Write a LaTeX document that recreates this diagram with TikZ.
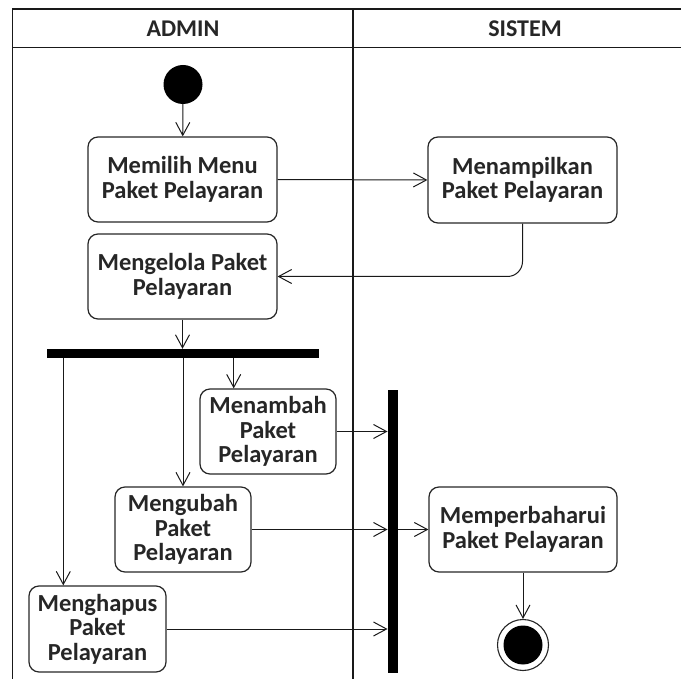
\documentclass[tikz,border=0pt]{standalone}
\usepackage{fontspec}
\setmainfont{Carlito}
\usetikzlibrary{arrows.meta}

\tikzset{
  lane/.style={line width=1.4pt, draw=black!90},
  act/.style={draw=black!85, line width=1.2pt, rounded corners=10pt, align=center,
    inner sep=0pt, font=\bfseries\fontsize{24.5}{24.5}\selectfont, text=black!85},
  bar/.style={fill=black, draw=none, inner sep=0pt},
  flow/.style={draw=black!90, line width=1pt,
    -{Straight Barb[length=13pt,width=14pt,line width=1pt]}},
  lanetitle/.style={font=\bfseries\fontsize{24}{26}\selectfont, text=black!85},
}

\begin{document}
\begin{tikzpicture}[x=1pt,y=-1pt]
\useasboundingbox (0,0) rectangle (681,679);

% swimlane frame
\draw[lane] (12.7,679) -- (12.7,9) -- (690,9);
\draw[lane] (12.7,47.5) -- (690,47.5);
\draw[lane] (353,9) -- (353,679);
\node[lanetitle] (hAdmin) at (183,29) {ADMIN};
\node[lanetitle] (hSistem) at (525,29) {SISTEM};

% start / end states
\node[circle, fill=black, inner sep=0pt, minimum size=39pt] (start) at (183,84.5) {};
\node[circle, draw=black!85, line width=1.1pt, fill=white, inner sep=0pt, minimum size=51pt] (finish) at (523,645) {};
\node[circle, fill=black, inner sep=0pt, minimum size=39pt] (finishdot) at (finish.center) {};

% activities
\node[act, minimum width=189pt, minimum height=85pt] (memilih) at (182.5,179.5) {Memilih Menu\\Paket Pelayaran};
\node[act, minimum width=189pt, minimum height=86pt] (tampil) at (522.5,180) {Menampilkan\\Paket Pelayaran};
\node[act, minimum width=189pt, minimum height=85pt] (kelola) at (182.5,276.5) {Mengelola Paket\\Pelayaran};
\node[act, minimum width=136pt, minimum height=85pt] (tambah) at (268,431.5) {Menambah\\Paket\\Pelayaran};
\node[act, minimum width=136pt, minimum height=85pt] (ubah) at (183,529.5) {Mengubah\\Paket\\Pelayaran};
\node[act, minimum width=137pt, minimum height=86pt] (hapus) at (97.5,629) {Menghapus\\Paket\\Pelayaran};
\node[act, minimum width=188pt, minimum height=85pt] (baharui) at (523,529.5) {Memperbaharui\\Paket Pelayaran};

% fork and join bars
\node[bar, minimum width=272.3pt, minimum height=9pt] (fork) at (182.85,353.5) {};
\node[bar, minimum width=10.5pt, minimum height=283pt] (join) at (393,531.5) {};

\coordinate (forkHapus) at (63.3,358);
\coordinate (forkTambah) at (233.7,358);

% control flows
\draw[flow] (start) -- (memilih);
\draw[flow] (memilih.east) -- (tampil.west);
\draw[flow, rounded corners=15pt] (tampil.south) |- (kelola.east);
\draw[flow] (kelola.south) -- (kelola.south |- fork.north);
\draw[flow] (forkHapus) -- (forkHapus |- hapus.north);
\draw[flow] (ubah.north |- fork.south) -- (ubah.north);
\draw[flow] (forkTambah) -- (forkTambah |- tambah.north);
\draw[flow] (tambah.east) -- (tambah.east -| join.west);
\draw[flow] (ubah.east) -- (ubah.east -| join.west);
\draw[flow] (hapus.east) -- (hapus.east -| join.west);
\draw[flow] (join.east |- baharui.west) -- (baharui.west);
\draw[flow] (baharui.south) -- (finish.north);
\end{tikzpicture}
\end{document}
